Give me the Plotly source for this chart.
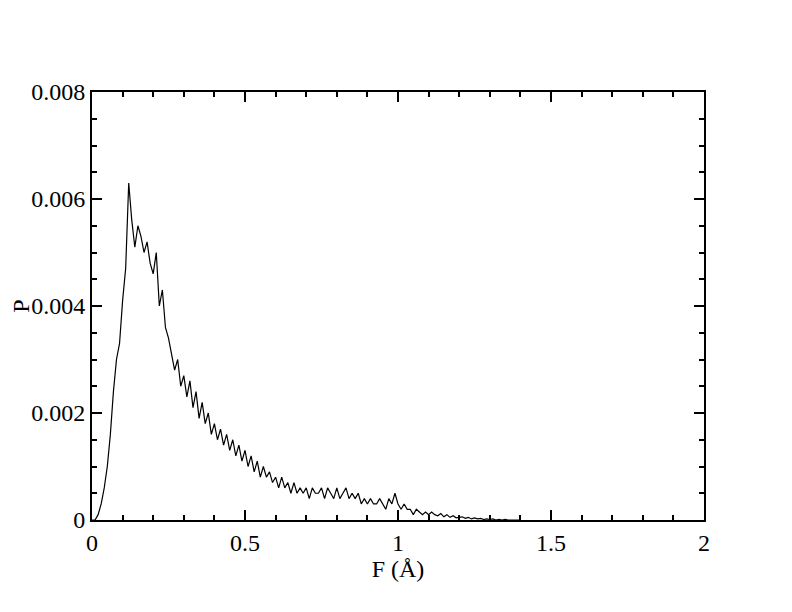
import plotly.graph_objects as go

x_step = 0.01
p_values = [
0,0,0.0001,0.0003,0.0006,0.001,0.0016,0.0024,0.003,0.0033,
0.0041,0.0047,0.0063,0.0056,0.0051,0.0055,0.0053,0.0050,0.0052,0.0048,
0.0046,0.0050,0.0040,0.0043,0.0036,0.0034,0.0031,0.0028,0.0030,0.0025,
0.0027,0.0023,0.0026,0.0021,0.0024,0.0019,0.0022,0.0018,0.0020,0.0016,
0.0018,0.0015,0.0017,0.0014,0.0016,0.0013,0.0015,0.0012,0.0014,0.0011,
0.0013,0.0010,0.0012,0.0009,0.0011,0.0008,0.0010,0.0008,0.0009,0.0007,
0.0008,0.0006,0.0008,0.0006,0.0007,0.0005,0.0007,0.0005,0.0006,0.0005,
0.0006,0.0004,0.0006,0.0005,0.0005,0.0006,0.0004,0.0006,0.0005,0.0004,
0.0006,0.0004,0.0005,0.0006,0.0004,0.0005,0.0004,0.0005,0.0003,0.0004,
0.0003,0.0004,0.0003,0.0003,0.0004,0.0003,0.0002,0.0004,0.0003,0.0005,
0.0003,0.0002,0.0003,0.0002,0.0002,0.0001,0.0002,0.00015,0.0001,0.00015,
0.0001,0.00015,0.0001,0.00008,0.00012,0.00006,0.0001,0.00005,0.00008,0.00004,
0.00005,0.00006,0.00003,0.00005,0.00002,0.00004,0.00002,0.00003,0.00001,0.00002,
0.00001,0.00002,0,0.00001,0,0.00001,0,0,0.00001,0,
0]
f_values = [round(i * x_step, 2) for i in range(len(p_values))]

x_ticks = [0, 0.5, 1, 1.5, 2]
x_labels = ["0", "0.5", "1", "1.5", "2"]
y_ticks = [0, 0.002, 0.004, 0.006, 0.008]
y_labels = ["0", "0.002", "0.004", "0.006", "0.008"]

fig = go.Figure(go.Scatter(x=f_values, y=p_values, mode="lines",
                           line=dict(color="black", width=1.2)))
font = dict(family="Liberation Serif", size=24, color="black")
common = dict(showgrid=False, zeroline=False, showline=True, linecolor="black",
              linewidth=2, mirror="allticks", ticks="inside", ticklen=10,
              tickwidth=2, tickcolor="black", tickfont=font)
fig.update_xaxes(range=[0, 2], tickvals=x_ticks, ticktext=x_labels,
                 title=dict(text="F (Å)", font=font, standoff=2),
                 minor=dict(dtick=0.1, ticks="inside", ticklen=5, tickwidth=2, tickcolor="black"),
                 **common)
fig.update_yaxes(range=[0, 0.008], tickvals=y_ticks, ticktext=y_labels,
                 title=dict(text="P", font=font, standoff=2),
                 minor=dict(dtick=0.0005, ticks="inside", ticklen=5, tickwidth=2, tickcolor="black"),
                 **common)
fig.update_layout(width=792, height=612, margin=dict(l=84, r=96, t=84, b=100, autoexpand=False),
                  plot_bgcolor="white", paper_bgcolor="white", showlegend=False)
fig.write_html("out.html")
